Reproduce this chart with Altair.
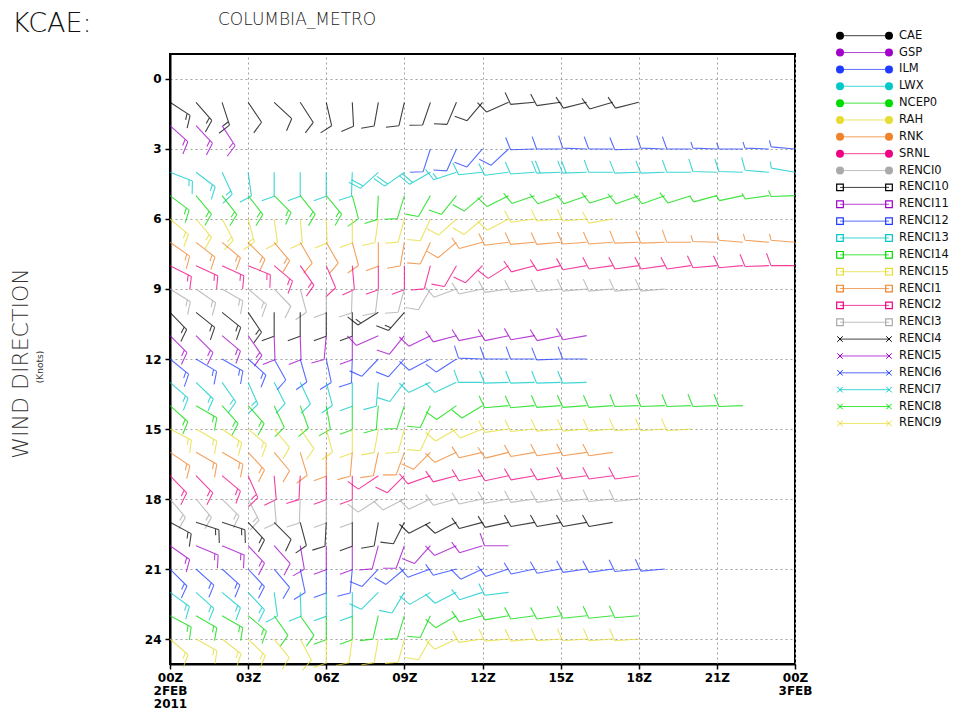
import altair as alt
import pandas as pd

# ---------------- data ----------------
stations = ["CAE", "GSP", "ILM", "LWX", "NCEP0", "RAH", "RNK", "SRNL", "RENCI0",
            "RENCI10", "RENCI11", "RENCI12", "RENCI13", "RENCI14", "RENCI15",
            "RENCI1", "RENCI2", "RENCI3", "RENCI4", "RENCI5", "RENCI6", "RENCI7",
            "RENCI8", "RENCI9"]
palette = ["#000000", "#a000c8", "#1e3cff", "#00c8c8", "#00dc00", "#e6dc32",
           "#f08228", "#f00082", "#aaaaaa"]
marker_kind = ["circle"] * 9 + ["square"] * 9 + ["cross"] * 6
start_hour = [0, 0, 10, 0, 0, 0, 0, 0, 0, 0, 0, 0, 0, 0, 0, 0, 0, 0, 0, 0, 0, 0, 0, 0]
hour_ticks = [0, 3, 6, 9, 12, 15, 18, 21, 24]
row_ticks = [0, 3, 6, 9, 12, 15, 18, 21, 24]

# wind direction (degrees, from) per hour
dir_cae = [123, 139, 162, 146, 133, 147, 167, 177, 190, 193, 199, 203, 220, 246, 265, 262, 256, 254, 256]
dir_gsp = [132, 137, 147]
dir_ilm = [198, 204, 221, 227, 268, 270, 272, 270, 268, 272, 270, 272, 270, 272, 275]
dir_lwx = [111, 127, 155, 172, 180, 180, 180, 182, 228, 235, 240, 252, 264, 263, 266, 268, 268, 270, 268, 268, 270, 272, 272, 275, 280]
dir_ncep0 = [127, 140, 142, 142, 135, 141, 140, 165, 183, 197, 210, 219, 230, 243, 251, 250, 250, 252, 250, 250, 252, 255, 258, 262, 268]
dir_rah = [130, 140, 152, 165, 172, 175, 178, 180, 188, 195, 205, 228, 230, 242, 262, 265, 265, 260]
dir_rnk = [125, 128, 130, 135, 140, 150, 150, 165, 180, 190, 205, 230, 255, 263, 265, 265, 266, 266, 268, 268, 270, 272, 275, 275, 275]
dir_srnl = [117, 115, 115, 112, 130, 145, 157, 175, 180, 180, 195, 210, 225, 238, 255, 258, 260, 262, 262, 262, 262, 265, 265, 268, 270]
dir_renci0 = [122, 125, 120, 130, 136, 165, 180, 182, 187, 195, 210, 250, 258, 262, 263, 264, 265, 265, 265, 265]
dir_renci10 = [136, 129, 129, 146, 180, 180, 180, 180, 238, 221]
dir_renci11 = [135, 135, 130, 145, 178, 178, 185, 180, 246, 219, 244, 255, 258, 258, 260, 258, 260]
dir_renci12 = [129, 121, 120, 132, 151, 164, 168, 182, 224, 222, 242, 237, 272, 270, 270, 268, 270]
dir_renci13 = [131, 134, 145, 156, 153, 155, 165, 180, 185, 217, 245, 245, 270, 268, 268, 268, 268]
dir_renci14 = [132, 120, 138, 138, 155, 160, 170, 180, 185, 198, 205, 235, 239, 265, 265, 266, 266, 266, 268, 268, 268, 268, 268]
dir_renci15 = [117, 120, 125, 130, 140, 145, 165, 180, 190, 195, 205, 240, 248, 262, 264, 265, 265, 265, 266, 266, 266]
dir_renci1 = [124, 120, 120, 137, 140, 163, 180, 185, 192, 200, 225, 245, 257, 256, 260, 262, 262, 262]
dir_renci2 = [136, 136, 130, 156, 175, 183, 180, 180, 236, 225, 250, 255, 258, 258, 260, 260, 262, 262, 262]
dir_renci3 = [140, 140, 135, 153, 175, 182, 180, 180, 237, 243, 245, 255, 258, 260, 262, 262, 264, 264, 264]
dir_renci4 = [118, 108, 108, 137, 135, 165, 183, 180, 190, 207, 243, 243, 255, 258, 260, 260, 260, 260]
dir_renci5 = [125, 113, 113, 137, 138, 170, 180, 180, 195, 200, 222, 246, 253, 270]
dir_renci6 = [135, 132, 132, 137, 140, 168, 180, 185, 223, 230, 250, 255, 245, 252, 258, 260, 262, 262, 264, 265]
dir_renci7 = [126, 132, 130, 137, 172, 178, 180, 180, 225, 211, 240, 243, 252, 263]
dir_renci8 = [118, 120, 120, 130, 145, 145, 180, 180, 193, 197, 205, 240, 255, 260, 262, 262, 264, 264, 265]
dir_renci9 = [131, 119, 128, 134, 141, 152, 180, 188, 190, 195, 210, 245, 262, 265, 265, 266, 266, 266, 266]

# wind speed (knots) per hour
spd_cae = [15, 15, 15, 10, 10, 10, 10, 10, 10, 10, 10, 10, 10, 10, 10, 10, 10, 10, 10]
spd_gsp = [15, 15, 15]
spd_ilm = [10, 10, 10, 10, 10, 10, 10, 10, 10, 10, 10, 5, 5, 5, 5]
spd_lwx = [15, 15, 15, 10, 10, 10, 10, 10, 20, 20, 20, 15, 10, 10, 10, 20, 20, 10, 10, 10, 10, 10, 10, 10, 5]
spd_ncep0 = [15, 15, 15, 15, 15, 15, 15, 10, 10, 10, 10, 10, 10, 10, 10, 10, 10, 10, 10, 10, 10, 5, 5, 5, 5]
spd_rah = [15, 15, 15, 15, 10, 10, 10, 10, 10, 10, 10, 10, 10, 10, 10, 10, 10, 10]
spd_rnk = [15, 15, 15, 15, 15, 10, 10, 10, 10, 10, 10, 10, 10, 10, 10, 10, 10, 10, 10, 10, 10, 5, 5, 5, 5]
spd_srnl = [15, 15, 15, 15, 15, 15, 10, 10, 10, 10, 10, 10, 10, 10, 10, 10, 10, 10, 10, 10, 10, 10, 10, 10, 10]
spd_renci0 = [15, 15, 15, 15, 10, 10, 10, 10, 10, 10, 10, 10, 10, 10, 10, 10, 10, 10, 10, 10]
spd_renci10 = [15, 15, 15, 15, 10, 10, 10, 10, 15, 15]
spd_renci11 = [15, 15, 15, 15, 10, 10, 10, 10, 10, 10, 10, 10, 10, 10, 10, 10, 10]
spd_renci12 = [15, 15, 15, 15, 10, 10, 10, 10, 10, 10, 10, 10, 10, 10, 10, 10, 10]
spd_renci13 = [15, 15, 15, 15, 10, 10, 10, 10, 10, 10, 10, 10, 10, 10, 10, 10, 10]
spd_renci14 = [15, 15, 15, 15, 10, 10, 10, 10, 10, 10, 10, 10, 10, 10, 10, 10, 10, 10, 10, 10, 10, 10, 10]
spd_renci15 = [15, 15, 15, 15, 10, 10, 10, 10, 10, 10, 10, 10, 10, 10, 10, 10, 10, 10, 10, 10, 10]
spd_renci1 = [15, 15, 15, 15, 10, 10, 10, 10, 10, 10, 10, 10, 10, 10, 10, 10, 10, 10]
spd_renci2 = [15, 15, 15, 15, 10, 10, 10, 10, 10, 10, 10, 10, 10, 10, 10, 10, 10, 10, 10]
spd_renci3 = [15, 15, 15, 15, 10, 10, 10, 10, 10, 10, 10, 10, 10, 10, 10, 10, 10, 10, 10]
spd_renci4 = [15, 15, 15, 15, 10, 10, 10, 10, 10, 10, 10, 10, 10, 10, 10, 10, 10, 10]
spd_renci5 = [15, 15, 15, 15, 10, 10, 10, 10, 10, 10, 10, 10, 10, 10]
spd_renci6 = [15, 15, 15, 15, 10, 10, 10, 10, 10, 10, 10, 10, 10, 10, 10, 10, 10, 10, 10, 10]
spd_renci7 = [15, 15, 15, 15, 10, 10, 10, 10, 10, 10, 10, 10, 10, 10]
spd_renci8 = [15, 15, 15, 15, 10, 10, 10, 10, 10, 10, 10, 10, 10, 10, 10, 10, 10, 10, 10]
spd_renci9 = [15, 15, 15, 15, 10, 10, 10, 10, 10, 10, 10, 10, 10, 10, 10, 10, 10, 10, 10]

all_dirs = [dir_cae, dir_gsp, dir_ilm, dir_lwx, dir_ncep0, dir_rah, dir_rnk, dir_srnl,
            dir_renci0, dir_renci10, dir_renci11, dir_renci12, dir_renci13, dir_renci14,
            dir_renci15, dir_renci1, dir_renci2, dir_renci3, dir_renci4, dir_renci5,
            dir_renci6, dir_renci7, dir_renci8, dir_renci9]
all_spds = [spd_cae, spd_gsp, spd_ilm, spd_lwx, spd_ncep0, spd_rah, spd_rnk, spd_srnl,
            spd_renci0, spd_renci10, spd_renci11, spd_renci12, spd_renci13, spd_renci14,
            spd_renci15, spd_renci1, spd_renci2, spd_renci3, spd_renci4, spd_renci5,
            spd_renci6, spd_renci7, spd_renci8, spd_renci9]


# ---------------- barb glyphs (unit staff pointing up, feathers on the right) ----------------
def barb_path(speed, feather=0.55, spacing=0.15):
    fx, fy = 0.94 * feather, -0.34 * feather
    parts = ["M0,0L0,-1"]
    pos = -1.0
    for _ in range(int(speed // 10)):
        parts.append(f"M0,{pos:.3f}L{fx:.3f},{pos + fy:.3f}")
        pos += spacing
    if speed % 10 >= 5:
        parts.append(f"M0,{pos:.3f}L{fx / 2:.3f},{pos + fy / 2:.3f}")
    return "".join(parts)


records = []
for i, (name, h0, dirs, spds) in enumerate(zip(stations, start_hour, all_dirs, all_spds)):
    for k, (d, s) in enumerate(zip(dirs, spds)):
        records.append({"station": name, "row": i + 1, "hour": h0 + k,
                        "dir": d, "path": barb_path(s)})
barbs_df = pd.DataFrame(records)

legend_df = pd.DataFrame({
    "idx": list(range(len(stations))),
    "name": stations,
    "color": [palette[i % 9] for i in range(len(stations))],
    "kind": marker_kind,
})

# ---------------- chart ----------------
label_expr = ("datum.value == 0 ? ['00Z','2FEB','2011'] : datum.value == 24 ? ['00Z','3FEB'] : "
              "(datum.value < 10 ? '0' : '') + datum.value + 'Z'")

x_enc = alt.X("hour:Q", scale=alt.Scale(domain=[0, 24], nice=False, zero=False),
              axis=alt.Axis(values=hour_ticks, labelExpr=label_expr, title=None,
                            labelFlush=False, labelOverlap=False, labelLineHeight=13,
                            labelPadding=3))
y_enc = alt.Y("row:Q", scale=alt.Scale(domain=[-1.07, 25.07], reverse=True, nice=False, zero=False),
              axis=alt.Axis(values=row_ticks, title="WIND DIRECTION", titleX=-150, titleY=309,
                            titleAngle=270, titleAlign="center", titleBaseline="middle",
                            titleFontSize=22, titleFont="DejaVu Sans", titleFontWeight=300,
                            titleColor="#333333", labelPadding=4))

barbs = alt.Chart(barbs_df).mark_point(filled=False, size=2304, strokeWidth=1.1, opacity=0.75).encode(
    x=x_enc, y=y_enc,
    shape=alt.Shape("path:N", scale=None),
    angle=alt.Angle("dir:Q", scale=None),
    color=alt.Color("station:N", scale=alt.Scale(domain=stations,
                                                 range=[palette[i % 9] for i in range(len(stations))]),
                    legend=None),
)

leg_y = alt.Y("idx:Q", scale=alt.Scale(domain=[0, 23], range=[-18.3, 369.4], nice=False, zero=False),
              axis=None)
leg_base = alt.Chart(legend_df)
leg_rule = leg_base.mark_rule(strokeWidth=1, opacity=0.75).encode(
    x=alt.value(670), x2=alt.value(719), y=leg_y, color=alt.Color("color:N", scale=None))
leg_layers = [leg_rule]
for xpos in (670, 719):
    leg_layers.append(leg_base.transform_filter(alt.datum.kind == "circle").mark_point(
        shape="circle", filled=True, size=64, opacity=1).encode(
        x=alt.value(xpos), y=leg_y, color=alt.Color("color:N", scale=None)))
    leg_layers.append(leg_base.transform_filter(alt.datum.kind == "square").mark_point(
        shape="square", filled=False, size=44, strokeWidth=1.2, opacity=1).encode(
        x=alt.value(xpos), y=leg_y, color=alt.Color("color:N", scale=None)))
    leg_layers.append(leg_base.transform_filter(alt.datum.kind == "cross").mark_point(
        shape="M-1,-1L1,1M-1,1L1,-1", filled=False, size=30, strokeWidth=1, opacity=1).encode(
        x=alt.value(xpos), y=leg_y, color=alt.Color("color:N", scale=None)))
leg_text = leg_base.mark_text(align="left", baseline="middle", font="DejaVu Sans", fontSize=11.5,
                              color="#111111").encode(x=alt.value(729), y=leg_y, text="name:N")
leg_layers.append(leg_text)

title_main = alt.Chart(pd.DataFrame({"t": ["KCAE:"]})).mark_text(
    align="left", baseline="alphabetic", font="DejaVu Sans", fontSize=27, fontWeight=300,
    color="#111111").encode(x=alt.value(-158), y=alt.value(-22), text="t:N")
title_sub = alt.Chart(pd.DataFrame({"t": ["COLUMBIA_METRO"]})).mark_text(
    align="left", baseline="alphabetic", font="DejaVu Sans", fontSize=17, fontWeight=300,
    color="#222222").encode(x=alt.value(48), y=alt.value(-29), text="t:N")
units = alt.Chart(pd.DataFrame({"t": ["(Knots)"]})).mark_text(
    align="center", baseline="middle", font="DejaVu Sans", fontSize=9, angle=270,
    color="#333333").encode(x=alt.value(-130), y=alt.value(313), text="t:N")

chart = alt.layer(barbs, *leg_layers, title_main, title_sub, units).resolve_scale(
    y="independent"
).properties(
    width=625, height=610,
    autosize=alt.AutoSizeParams(type="none"),
    padding={"left": 162, "top": 46, "right": 155, "bottom": 45},
    background="white",
).configure_view(
    stroke="black", strokeWidth=2
).configure_axis(
    domainColor="black", domainWidth=2, tickColor="black", tickWidth=1.5, tickSize=5,
    grid=True, gridColor="#a0a0a0", gridDash=[2, 3], gridWidth=1,
    labelColor="black", labelFont="DejaVu Sans", labelFontWeight="bold", labelFontSize=12,
)

chart.save("out.html", embed_options={"renderer": "svg", "actions": False})
